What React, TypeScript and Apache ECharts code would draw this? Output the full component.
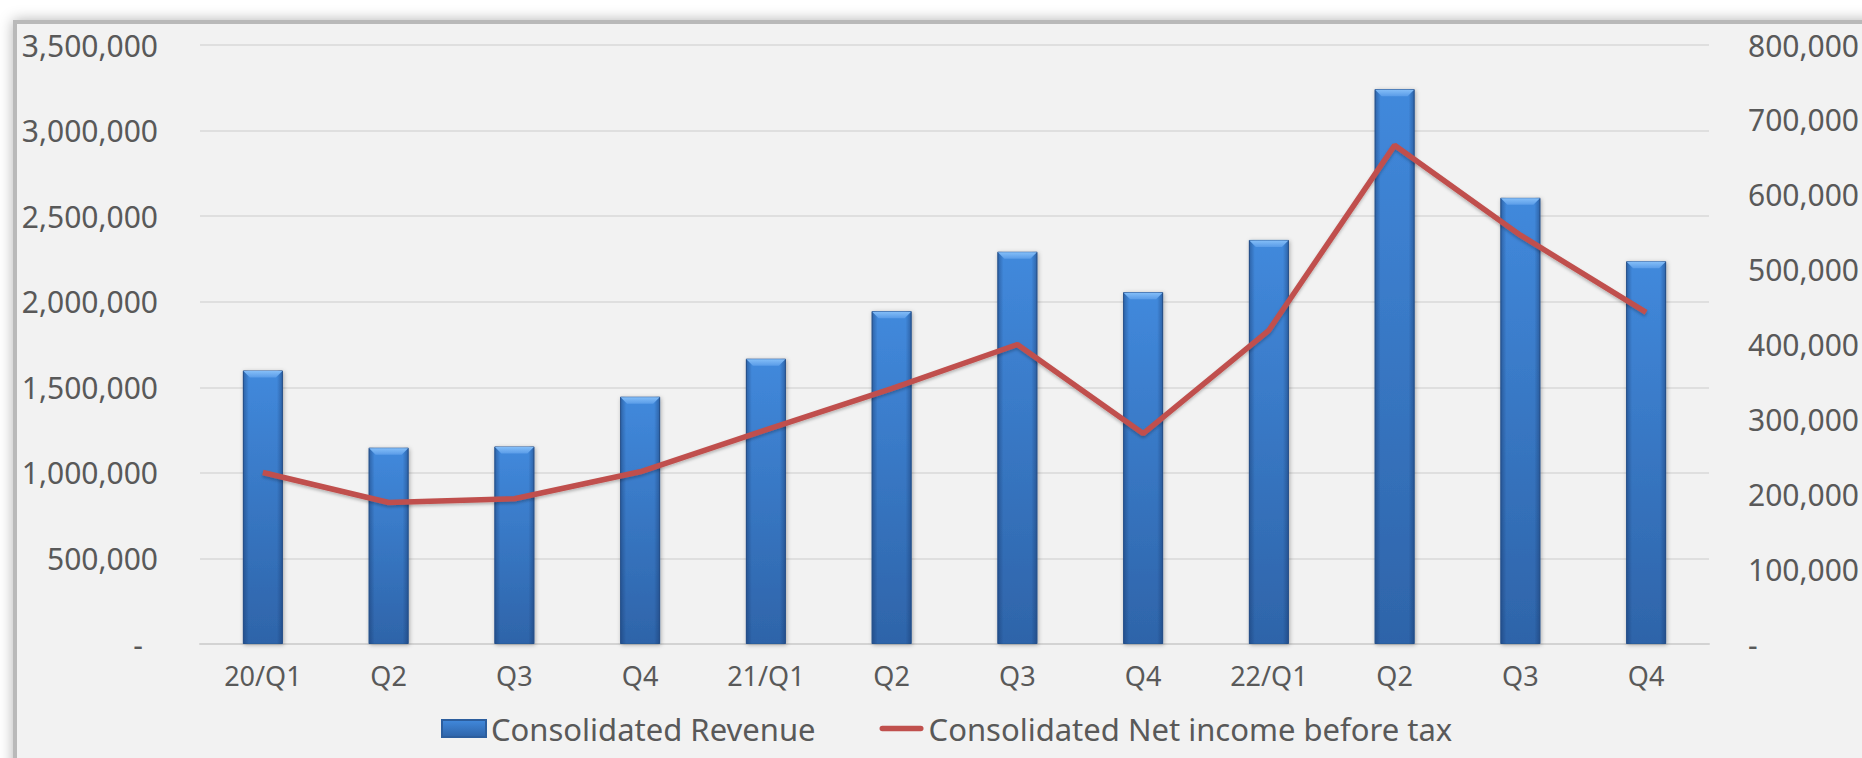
import React, { useEffect, useRef } from "react";
import * as echarts from "echarts";

const categories = ["20/Q1", "Q2", "Q3", "Q4", "21/Q1", "Q2", "Q3", "Q4", "22/Q1", "Q2", "Q3", "Q4"];
const revenue = [1598000, 1147000, 1154000, 1445000, 1667000, 1945000, 2292000, 2056000, 2361000, 3242000, 2607000, 2236000];
const netIncome = [229000, 189000, 194000, 230000, 286000, 341000, 400000, 281000, 419000, 666000, 546000, 443000];
const revenueName = "Consolidated Revenue";
const incomeName = "Consolidated Net income before tax";

const FONT = "'Noto Sans', sans-serif";
const TEXT = "#595959";
const BAR_W = 40;

function fmt(v: number) {
  return v.toLocaleString("en-US");
}

export default function App() {
  const ref = useRef<HTMLDivElement>(null);
  useEffect(() => {
    if (!ref.current) return;
    const chart = echarts.init(ref.current, null, { renderer: "svg" });
    const option: any = {
      animation: false,
      backgroundColor: "#ffffff",
      textStyle: { fontFamily: FONT },
      graphic: {
        elements: [
          {
            type: "rect",
            z: -100,
            silent: true,
            shape: { x: 15, y: 22, width: 1900, height: 800 },
            style: {
              fill: "#F2F2F2",
              stroke: "#B9B9B9",
              lineWidth: 4,
              shadowBlur: 14,
              shadowColor: "rgba(0,0,0,0.3)",
            },
          },
        ],
      },
      grid: { left: 200, right: 152, top: 45, bottom: 114, containLabel: false },
      legend: {
        left: 436,
        top: 708,
        itemWidth: 44,
        itemHeight: 17,
        itemGap: 64,
        symbolKeepAspect: true,
        textStyle: { fontSize: 31, color: TEXT, fontFamily: FONT },
        data: [
          { name: revenueName, icon: "rect" },
          {
            name: incomeName,
            icon: "path://M3,0 L45,0 A3,3 0 0 1 45,6 L3,6 A3,3 0 0 1 3,0 Z",
            itemStyle: { color: "#C0504D", borderWidth: 0 },
          },
        ],
      },
      xAxis: {
        type: "category",
        data: categories,
        boundaryGap: true,
        axisTick: { show: false },
        axisLine: { lineStyle: { color: "#D3D3D3", width: 2 } },
        axisLabel: { fontSize: 27, color: TEXT, margin: 18, fontFamily: FONT, interval: 0 },
      },
      yAxis: [
        {
          type: "value",
          min: 0,
          max: 3500000,
          interval: 500000,
          axisLine: { show: false },
          axisTick: { show: false },
          splitLine: { lineStyle: { color: "#D9D9D9", width: 1.5 } },
          axisLabel: {
            fontSize: 30,
            color: TEXT,
            margin: 42,
            fontFamily: FONT,
            formatter: (v: number) => (v === 0 ? "{d|-}" : fmt(v)),
            rich: { d: { fontSize: 30, color: TEXT, fontFamily: FONT, padding: [0, 15, 0, 0] } },
          },
        },
        {
          type: "value",
          min: 0,
          max: 800000,
          interval: 100000,
          position: "right",
          axisLine: { show: false },
          axisTick: { show: false },
          splitLine: { show: false },
          axisLabel: {
            fontSize: 30,
            color: TEXT,
            margin: 39,
            fontFamily: FONT,
            formatter: (v: number) => (v === 0 ? "-" : fmt(v)),
          },
        },
      ],
      series: [
        {
          name: revenueName,
          type: "bar",
          data: revenue,
          barWidth: BAR_W,
          yAxisIndex: 0,
          z: 2,
          itemStyle: {
            color: new echarts.graphic.LinearGradient(0, 0, 0, 1, [
              { offset: 0, color: "#4189DC" },
              { offset: 1, color: "#2E64A9" },
            ]),
            borderColor: "#2C5E9E",
            borderWidth: 1,
            shadowBlur: 4,
            shadowColor: "rgba(0,0,0,0.3)",
            shadowOffsetX: 1,
            shadowOffsetY: 1,
          },
        },
        {
          name: "bevel",
          type: "custom",
          yAxisIndex: 0,
          z: 3,
          silent: true,
          data: revenue.map((v, i) => [i, v]),
          encode: { x: 0, y: 1 },
          renderItem: (params: any, api: any) => {
            const idx = api.value(0);
            const val = api.value(1);
            const top = api.coord([idx, val]);
            const base = api.coord([idx, 0]);
            const cx = top[0];
            const cy = top[1];
            const by = base[1];
            const x0 = cx - BAR_W / 2;
            const w = BAR_W;
            const h = by - cy;
            const b = 7;
            return {
              type: "group",
              children: [
                {
                  type: "rect",
                  shape: { x: x0, y: cy, width: 6, height: h },
                  style: {
                    fill: new echarts.graphic.LinearGradient(0, 0, 1, 0, [
                      { offset: 0, color: "rgba(20,50,100,0.45)" },
                      { offset: 1, color: "rgba(20,50,100,0)" },
                    ]),
                  },
                },
                {
                  type: "rect",
                  shape: { x: x0 + w - 6, y: cy, width: 6, height: h },
                  style: {
                    fill: new echarts.graphic.LinearGradient(0, 0, 1, 0, [
                      { offset: 0, color: "rgba(20,50,100,0)" },
                      { offset: 1, color: "rgba(20,50,100,0.45)" },
                    ]),
                  },
                },
                {
                  type: "polygon",
                  shape: {
                    points: [
                      [x0 + 0.5, cy + 0.5],
                      [x0 + w - 0.5, cy + 0.5],
                      [x0 + w - b, cy + b],
                      [x0 + b, cy + b],
                    ],
                  },
                  style: {
                    fill: new echarts.graphic.LinearGradient(0, 0, 0, 1, [
                      { offset: 0, color: "#84BEF8" },
                      { offset: 1, color: "#5A9CE8" },
                    ]),
                  },
                },
              ],
            };
          },
        },
        {
          name: incomeName,
          type: "line",
          data: netIncome,
          yAxisIndex: 1,
          z: 5,
          symbol: "none",
          smooth: false,
          lineStyle: {
            color: "#C0504D",
            width: 5.5,
            shadowBlur: 3,
            shadowColor: "rgba(0,0,0,0.25)",
            shadowOffsetY: 2,
          },
          itemStyle: { color: "#C0504D" },
        },
      ],
    };
    chart.setOption(option);
    return () => chart.dispose();
  }, []);
  return (
    <div
      ref={ref}
      style={{ position: "fixed", left: 0, top: 0, width: 1862, height: 758 }}
    />
  );
}
